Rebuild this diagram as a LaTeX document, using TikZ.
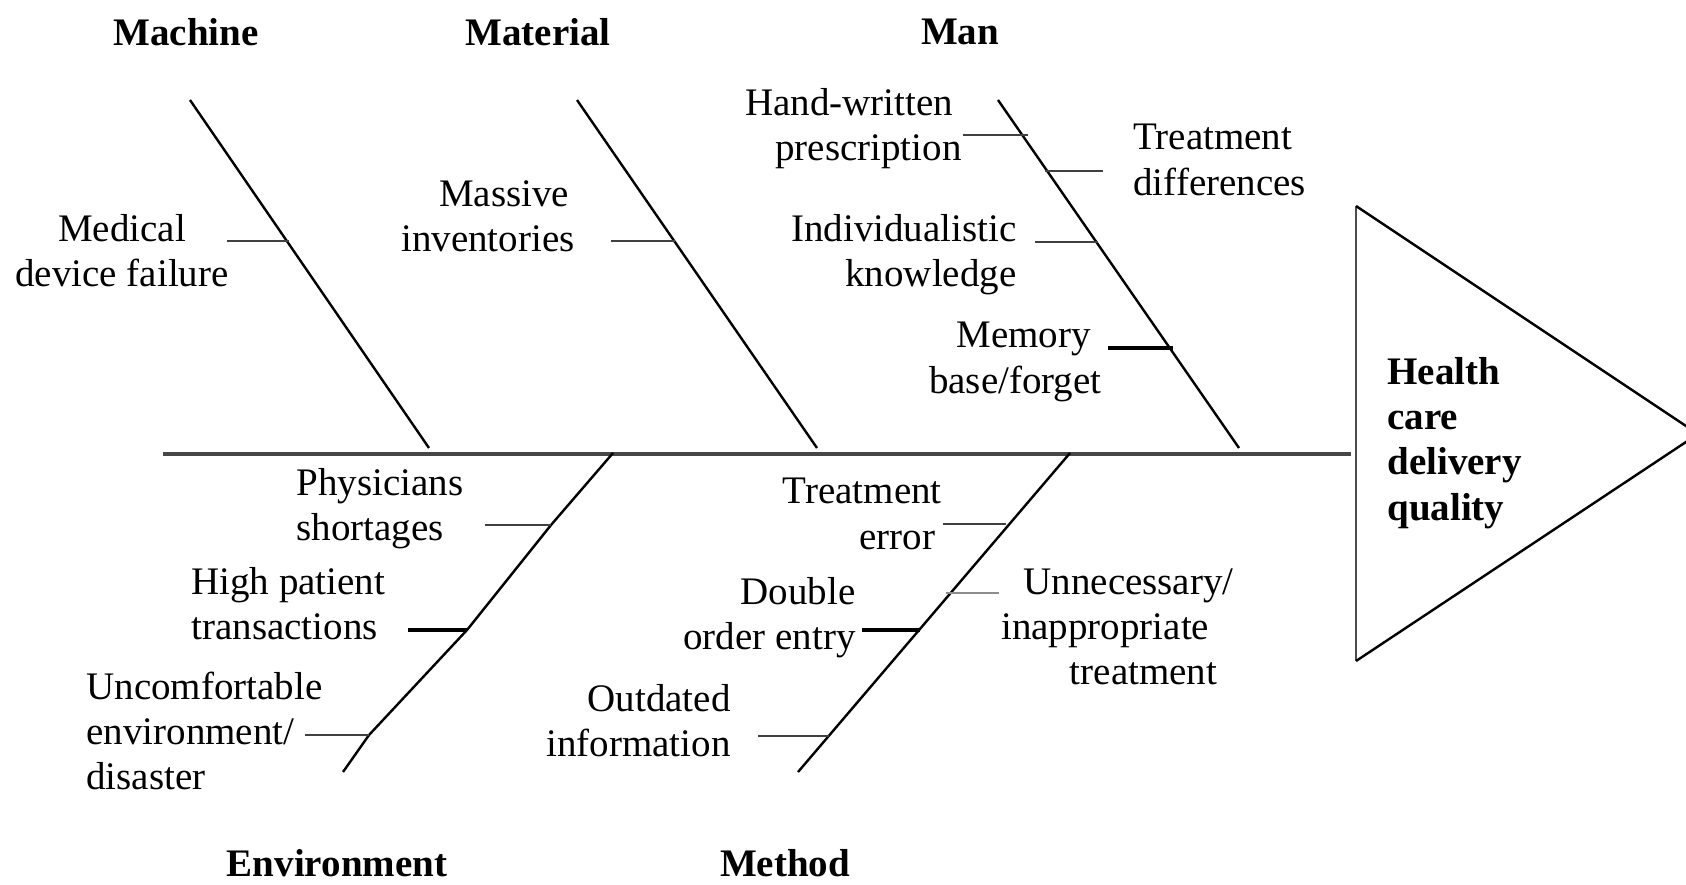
\documentclass[tikz,border=0pt]{standalone}
\usepackage{fontspec}
\setmainfont{Liberation Serif}
% fixed-width spacer that survives line ends
\newcommand{\padR}[1]{\rule{#1}{0pt}}
\begin{document}
\begin{tikzpicture}[x=0.5pt,y=-0.5pt,
  lbl/.style={font=\fontsize{19.5}{22.6}\selectfont, inner sep=0pt},
  cat/.style={font=\fontsize{19.5}{22.6}\selectfont\bfseries, inner sep=0pt},
  spine/.style={line width=1.6pt, black!72},
  bone/.style={line width=1.2pt, black, line join=round},
  twig/.style={line width=1.3pt, black!75},
  twigbold/.style={line width=2.2pt, black},
  twiglight/.style={line width=1.0pt, black!45},
  head/.style={line width=1.2pt, black, line join=miter}]
\clip (0,0) rectangle (1686,884);

% spine and effect head
\coordinate (tail) at (163,454);
\coordinate (neck) at (1351,454);
\coordinate (htop) at (1356,206);
\coordinate (hbot) at (1356,661);
\coordinate (htip) at (1698,434);
\draw[spine] (tail) -- (neck);
\draw[line width=1.4pt, black!70] (htop) -- (hbot);
\draw[head] (htop) -- (htip) -- (hbot);
\node[cat, align=left, anchor=west] (effect) at (1387,443)
  {Health\\care\\delivery\\quality};

% category bones
\coordinate (mach1) at (190,100);  \coordinate (mach0) at (429,448);
\coordinate (mat1)  at (577,100);  \coordinate (mat0)  at (817,448);
\coordinate (man1)  at (998,100);  \coordinate (man0)  at (1239,448);
\coordinate (env0)  at (613,453);  \coordinate (env1)  at (343,772);
\coordinate (meth0) at (1070,453); \coordinate (meth1) at (798,772);

% junctions on the bones
\coordinate (jmed)  at (289,241);
\coordinate (jmass) at (675,241);
\coordinate (jhand) at (1028,135);
\coordinate (jtdif) at (1045,171);
\coordinate (jind)  at (1098,242);
\coordinate (jmem)  at (1173,348);
\coordinate (jphys) at (551,525);
\coordinate (jhigh) at (467,630);
\coordinate (junc)  at (369,735);
\coordinate (jterr) at (1006,524);
\coordinate (junn)  at (946,593);
\coordinate (jdbl)  at (920,630);
\coordinate (joutd) at (829,736);

\draw[bone] (mach1) -- (mach0);
\draw[bone] (mat1) -- (mat0);
\draw[bone] (man1) -- (man0);
\draw[bone] (env0) -- (jphys) -- (jhigh) -- (junc) -- (env1);
\draw[bone] (meth0) -- (meth1);

% category titles
\node[cat] (machine) at (186,32) {Machine};
\node[cat] (material) at (538,32) {Material};
\node[cat] (man) at (960,32) {Man};
\node[cat] (environment) at (337,863) {Environment};
\node[cat] (method) at (785,863) {Method};

% causes
\node[lbl, align=center] (med) at (122,251) {Medical\\device failure};
\node[lbl, align=right, anchor=east] (mass) at (575,216) {Massive\padR{2.7pt}\\inventories};
\node[lbl, align=right, anchor=east] (hand) at (962,129) {Hand-written\padR{4.3pt}\\prescription};
\node[lbl, align=left, anchor=west] (tdif) at (1133,160) {Treatment\\differences};
\node[lbl, align=right, anchor=east] (ind) at (1017,255) {Individualistic\\knowledge};
\node[lbl, align=right, anchor=east] (mem) at (1102,362) {Memory\padR{5.4pt}\\base/forget};
\node[lbl, align=left, anchor=west] (phys) at (296,509) {Physicians\\shortages};
\node[lbl, align=left, anchor=west] (high) at (191,604) {High patient\\transactions};
\node[lbl, align=left, anchor=west] (unc) at (86,731) {Uncomfortable\\environment/\\disaster};
\node[lbl, align=right, anchor=east] (terr) at (942,514) {Treatment\\error\padR{3.2pt}};
\node[lbl, align=right, anchor=east] (dbl) at (856,618) {Double\\order entry};
\node[lbl, align=right, anchor=east] (outd) at (731,721) {Outdated\\information};
\node[lbl, align=right, anchor=east] (unn) at (1234,627)
  {Unnecessary/\\inappropriate\padR{12.2pt}\\treatment\padR{8.2pt}};

% connectors from causes to bones
\coordinate (smed)  at (227,241);
\coordinate (smass) at (611,241);
\coordinate (shand) at (963,135);
\coordinate (stdif) at (1103,171);
\coordinate (sind)  at (1035,242);
\coordinate (smem)  at (1108,348);
\coordinate (sphys) at (485,525);
\coordinate (shigh) at (408,630);
\coordinate (sunc)  at (305,735);
\coordinate (sterr) at (943,524);
\coordinate (sunn)  at (999,593);
\coordinate (sdbl)  at (862,630);
\coordinate (soutd) at (758,736);

\draw[twig] (smed) -- (jmed);
\draw[twig] (smass) -- (jmass);
\draw[twig] (shand) -- (jhand);
\draw[twig] (jtdif) -- (stdif);
\draw[twig] (sind) -- (jind);
\draw[twigbold] (smem) -- (jmem);
\draw[twig] (sphys) -- (jphys);
\draw[twigbold] (shigh) -- (jhigh);
\draw[twig] (sunc) -- (junc);
\draw[twig] (sterr) -- (jterr);
\draw[twiglight] (junn) -- (sunn);
\draw[twigbold] (sdbl) -- (jdbl);
\draw[twig] (soutd) -- (joutd);
\end{tikzpicture}
\end{document}
